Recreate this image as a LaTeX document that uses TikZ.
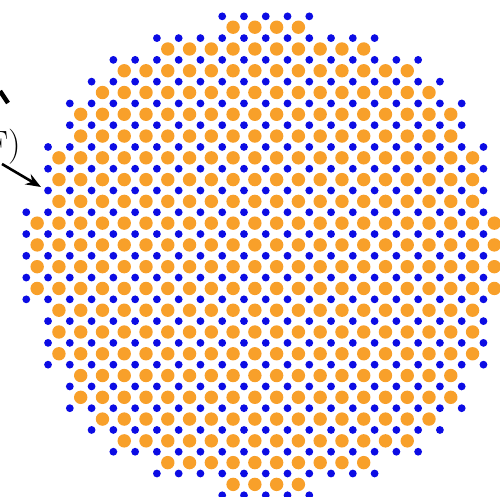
\documentclass[tikz,border=0pt]{standalone}
\usepackage{tikz}
\usetikzlibrary{arrows.meta}
\definecolor{atomorange}{RGB}{248,160,42}
\definecolor{atomblue}{RGB}{12,12,228}

\begin{document}
\begin{tikzpicture}[x=0.03cm, y=-0.03cm,
  bluedot/.style={fill=atomblue},
  orangedot/.style={fill=atomorange},
  pointer/.style={line width=2.2pt, -{Stealth[length=13pt, width=10pt]}}]
  \useasboundingbox (0,0) rectangle (500,496);
  % ---- lattice centre and spacing ----
  \def\cx{265.75}
  \def\cy{255.8}
  \def\a{21.77}
  % ---- blue columns: row / half-width ----
  \foreach \n/\e in {-11/2,-10/5,-9/7,-8/8,-7/9,-6/9,-5/10,-4/10,-3/10,-2/11,-1/11,0/11,
                     1/11,2/11,3/10,4/10,5/10,6/9,7/9,8/8,9/7,10/5,11/2}
    \foreach \m in {-\e,...,\e}
      \fill[bluedot] ({\cx+\a*(\m)}, {\cy+\a*(\n)}) circle[radius=3.9];
  % ---- orange columns (shifted by half a cell) ----
  \foreach \r/\K in {-11/1,-10/4,-9/6,-8/7,-7/8,-6/8,-5/9,-4/9,-3/9,-2/10,-1/10,
                     0/10,1/10,2/9,3/9,4/9,5/8,6/8,7/7,8/6,9/4,10/1} {
    \pgfmathtruncatemacro\Kl{-\K-1}
    \foreach \k in {\Kl,...,\K}
      \fill[orangedot] ({\cx+\a*(\k+0.5)}, {\cy+\a*(\r+0.5)}) circle[radius=6.7];
  }
  % ---- label and arrow ----
  \node[font=\fontsize{30}{36}\selectfont, anchor=base east, inner sep=0] (lbl) at (21,155) {(F)};
  \coordinate (tail) at (2,164);
  \coordinate (tip) at (41,187);
  \draw[pointer] (tail) -- (tip);
  \draw[line width=3.8pt] (0,91) -- (8,103);
\end{tikzpicture}
\end{document}
